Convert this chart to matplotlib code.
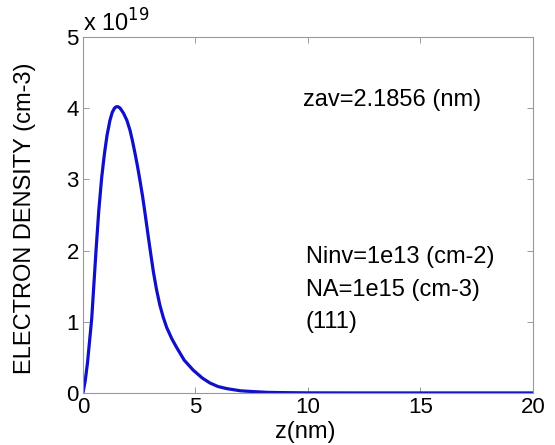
import matplotlib
matplotlib.use("Agg")
import matplotlib.pyplot as plt
from matplotlib.ticker import FuncFormatter
import numpy as np

# electron density profile (z in nm, density in 1e19 cm-3)
z_nm = [0.0, 0.1, 0.2, 0.3, 0.39, 0.48, 0.58, 0.7, 0.83, 0.95,
        1.07, 1.2, 1.3, 1.4, 1.48, 1.56, 1.65, 1.8, 1.95, 2.09, 2.2, 2.31, 2.42,
        2.53, 2.65, 2.76, 2.9, 3.0, 3.13, 3.27, 3.42, 3.57, 3.72, 3.95, 4.16, 4.5,
        4.9, 5.3, 5.64, 6.0, 6.4, 7.0, 7.5, 8.2, 9.0, 10.0, 12.0, 15.0, 20.0]
density = [0.0, 0.17, 0.42, 0.75, 1.05, 1.5, 2.0, 2.55, 3.02, 3.35,
           3.62, 3.83, 3.94, 4.0, 4.02, 4.02, 4.0, 3.93, 3.83, 3.69, 3.54, 3.37, 3.19,
           2.99, 2.76, 2.52, 2.2, 1.98, 1.7, 1.45, 1.23, 1.06, 0.92, 0.76, 0.64, 0.46,
           0.32, 0.21, 0.14, 0.09, 0.06, 0.03, 0.02, 0.008, 0.004, 0.001, 0.0, 0.0, 0.0]
density = np.array(density) * 1e19

x_ticks = [0, 5, 10, 15, 20]
y_ticks = [0, 1e19, 2e19, 3e19, 4e19, 5e19]

plt.rcParams['font.family'] = ['Liberation Sans', 'DejaVu Sans']

fig = plt.figure(figsize=(5.55, 4.45), dpi=100)
ax = fig.add_axes([0.1495, 0.117, 0.8108, 0.800])
ax.plot(z_nm, density, color='#1010c8', linewidth=2.3)

ax.set_xlim(0, 20)
ax.set_ylim(0, 5e19)
ax.set_xticks(x_ticks)
ax.set_yticks(y_ticks)
ax.yaxis.set_major_formatter(FuncFormatter(lambda v, p: f"{v / 1e19:g}"))
ax.tick_params(direction='in', length=4, width=0.6, top=True, right=True,
               labelsize=16, color='#888888', pad=3)
for s in ax.spines.values():
    s.set_color('#999999')
    s.set_linewidth(0.8)

ax.set_xlabel("z(nm)", fontsize=17, va='top')
ax.xaxis.set_label_coords(0.493, -0.08)
ax.set_ylabel("ELECTRON DENSITY (cm-3)", fontsize=17)
ax.yaxis.set_label_coords(-0.105, 0.49)

ax.text(0.0, 1.0, r"x 10$^{19}$", transform=ax.transAxes, fontsize=17,
        ha='left', va='bottom')

ax.text(0.49, 0.823, "zav=2.1856 (nm)", transform=ax.transAxes, fontsize=17,
        ha='left', va='center')
ax.text(0.495, 0.382, "Ninv=1e13 (cm-2)", transform=ax.transAxes, fontsize=17,
        ha='left', va='center')
ax.text(0.495, 0.29, "NA=1e15 (cm-3)", transform=ax.transAxes, fontsize=17,
        ha='left', va='center')
ax.text(0.495, 0.20, "(111)", transform=ax.transAxes, fontsize=17,
        ha='left', va='center')

fig.savefig("out.png", dpi=100)
